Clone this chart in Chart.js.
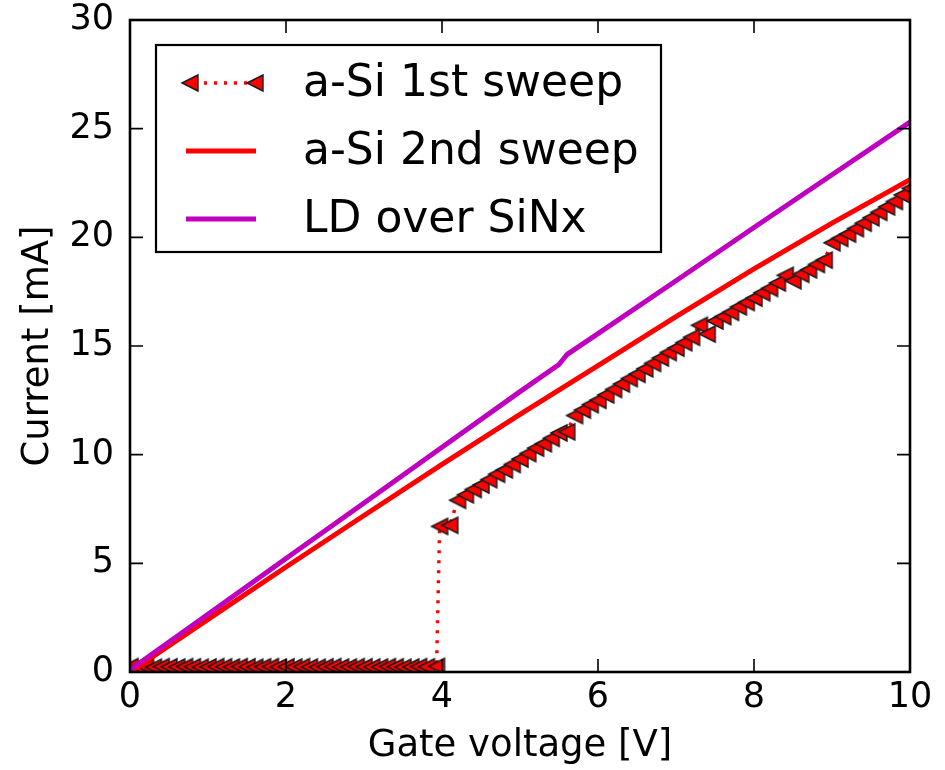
<!DOCTYPE html>
<html>
<head>
<meta charset="utf-8">
<script src="https://cdn.jsdelivr.net/npm/chart.js@4/dist/chart.umd.min.js"></script>
<style>
  html, body { margin: 0; padding: 0; background: #fff; }
  #wrap { width: 945px; height: 770px; }
</style>
</head>
<body>
<div id="wrap"><canvas id="c" width="945" height="770"></canvas></div>
<script>
// ---------- data ----------
const seriesLabels = ['a-Si 1st sweep', 'a-Si 2nd sweep', 'LD over SiNx'];

const sweep1V = [0.0,0.1,0.2,0.3,0.4,0.5,0.6,0.7,0.8,0.9,1.0,1.1,1.2,1.3,1.4,1.5,1.6,1.7,1.8,1.9,
  2.0,2.1,2.2,2.3,2.4,2.5,2.6,2.7,2.8,2.9,3.0,3.1,3.2,3.3,3.4,3.5,3.6,3.7,3.8,3.93,
  3.97,4.1,
  4.2,4.3,4.4,4.5,4.6,4.7,4.8,4.9,5.0,5.1,5.2,5.3,5.4,5.5,5.6,5.7,5.8,5.9,6.0,
  6.1,6.2,6.3,6.4,6.5,6.6,6.7,6.8,6.9,7.0,7.1,7.2,7.3,7.4,7.5,7.6,7.7,7.8,7.9,8.0,
  8.1,8.2,8.3,8.4,8.5,8.6,8.7,8.8,8.9,9.0,9.1,9.2,9.3,9.4,9.5,9.6,9.7,9.8,9.9,10.0];
const sweep1I = [0.25,0.23,0.24,0.22,0.25,0.24,0.23,0.25,0.24,0.22,0.23,0.25,0.24,0.23,0.25,0.24,0.22,0.24,0.25,0.23,
  0.24,0.23,0.25,0.23,0.22,0.24,0.25,0.23,0.23,0.25,0.24,0.23,0.23,0.25,0.24,0.22,0.23,0.25,0.24,0.26,
  6.7,6.75,
  7.9,8.15,8.4,8.6,8.85,9.1,9.3,9.55,9.8,10.05,10.3,10.5,10.75,11.0,11.05,11.8,12.05,12.3,12.5,
  12.75,13.0,13.25,13.5,13.7,13.95,14.2,14.45,14.7,14.9,15.15,15.4,15.95,15.55,16.15,16.35,16.55,16.8,17.0,17.2,
  17.45,17.65,17.9,18.25,18.0,18.3,18.5,18.75,18.95,19.75,19.95,20.15,20.4,20.65,20.9,21.15,21.4,21.65,21.95,22.25];

const sweep2V = [0,1,2,3,4,5,6,7,8,9,10];
const sweep2I = [0.0,2.42,4.83,7.2,9.55,11.85,14.1,16.35,18.55,20.65,22.65];

const ldV = [0,1,2,3,4,5,5.5,5.6,6,7,8,9,10];
const ldI = [0.1,2.66,5.22,7.78,10.34,12.9,14.15,14.6,15.57,18.0,20.45,22.88,25.3];

const xTicks = [0,2,4,6,8,10];
const yTicks = [0,5,10,15,20,25,30];

const xTitle = 'Gate voltage [V]';
const yTitle = 'Current [mA]';

// ---------- helpers ----------
const toPts = (xs, ys) => xs.map((v, i) => ({x: v, y: ys[i]}));
const FONT = '"DejaVu Sans", "Liberation Sans", sans-serif';

// matplotlib-like '<' marker (tip left, vertical base), used as a point style image
function makeLeftTriangle(size, fill, stroke, lw) {
  const pad = 2;
  const c = document.createElement('canvas');
  c.width = size + pad * 2; c.height = size + pad * 2;
  const g = c.getContext('2d');
  g.beginPath();
  g.moveTo(pad, pad + size / 2);
  g.lineTo(pad + size, pad);
  g.lineTo(pad + size, pad + size);
  g.closePath();
  g.fillStyle = fill; g.fill();
  g.lineWidth = lw; g.strokeStyle = stroke; g.lineJoin = 'miter'; g.stroke();
  return c;
}
const triMarker = makeLeftTriangle(16, '#ff0000', '#1a1a1a', 1.4);

// frame + inward ticks on all four sides (matplotlib style)
const framePlugin = {
  id: 'frame',
  afterDatasetsDraw(chart) {
    const {ctx, chartArea: a, scales: {x, y}} = chart;
    ctx.save();
    ctx.strokeStyle = '#000';
    ctx.lineWidth = 1.6;
    const L = 13;
    x.ticks.forEach(t => {
      const p = x.getPixelForValue(t.value);
      ctx.beginPath();
      ctx.moveTo(p, a.bottom); ctx.lineTo(p, a.bottom - L);
      ctx.moveTo(p, a.top); ctx.lineTo(p, a.top + L);
      ctx.stroke();
    });
    y.ticks.forEach(t => {
      const p = y.getPixelForValue(t.value);
      ctx.beginPath();
      ctx.moveTo(a.left, p); ctx.lineTo(a.left + L, p);
      ctx.moveTo(a.right, p); ctx.lineTo(a.right - L, p);
      ctx.stroke();
    });
    ctx.lineWidth = 2.6;
    ctx.strokeRect(a.left, a.top, a.right - a.left, a.bottom - a.top);
    ctx.restore();
  }
};

// legend box in the upper-left of the plot area
const legendPlugin = {
  id: 'boxLegend',
  afterDraw(chart) {
    const {ctx, chartArea: a} = chart;
    const bx = a.left + 26, by = a.top + 25, bw = 505, bh = 207;
    ctx.save();
    ctx.fillStyle = '#fff';
    ctx.fillRect(bx, by, bw, bh);
    ctx.strokeStyle = '#000';
    ctx.lineWidth = 2.2;
    ctx.strokeRect(bx, by, bw, bh);
    const rows = [38, 106, 174];
    const hx0 = bx + 30, hx1 = bx + 100;
    chart.data.datasets.forEach((ds, i) => {
      const yy = by + rows[i];
      ctx.save();
      ctx.strokeStyle = ds.borderColor;
      ctx.lineWidth = ds.borderWidth;
      ctx.setLineDash(ds.borderDash || []);
      ctx.beginPath();
      ctx.moveTo(hx0 + (ds.pointRadius > 0 ? 8 : 0), yy); ctx.lineTo(hx1, yy);
      ctx.stroke();
      ctx.restore();
      if (ds.pointRadius > 0 && ds.pointStyle instanceof HTMLCanvasElement) {
        const m = ds.pointStyle;
        ctx.drawImage(m, hx0 + 4 - m.width / 2, yy - m.height / 2);
        ctx.drawImage(m, hx1 - 1 - m.width / 2, yy - m.height / 2);
      }
      ctx.fillStyle = '#000';
      ctx.font = '44px ' + FONT;
      ctx.textAlign = 'left';
      ctx.textBaseline = 'middle';
      ctx.fillText(ds.label, bx + 147, yy + 2);
    });
    ctx.restore();
  }
};

new Chart(document.getElementById('c'), {
  type: 'scatter',
  data: {
    datasets: [
      {
        label: seriesLabels[0],
        data: toPts(sweep1V, sweep1I),
        showLine: true,
        borderColor: '#ff0000',
        borderWidth: 3.5,
        borderDash: [3, 7],
        pointStyle: triMarker,
        pointRadius: 8,
        pointHoverRadius: 8,
        tension: 0,
        clip: 0,
        order: 3
      },
      {
        label: seriesLabels[1],
        data: toPts(sweep2V, sweep2I),
        showLine: true,
        borderColor: '#ff0000',
        borderWidth: 5,
        borderJoinStyle: 'round',
        pointRadius: 0,
        pointHoverRadius: 0,
        tension: 0,
        clip: 0,
        order: 2
      },
      {
        label: seriesLabels[2],
        data: toPts(ldV, ldI),
        showLine: true,
        borderColor: '#bf00bf',
        borderWidth: 5,
        borderJoinStyle: 'round',
        pointRadius: 0,
        pointHoverRadius: 0,
        tension: 0,
        clip: 0,
        order: 1
      }
    ]
  },
  options: {
    responsive: false,
    animation: false,
    events: [],
    layout: { autoPadding: false, padding: { left: 0, right: 35, top: 20, bottom: 0 } },
    plugins: { legend: { display: false }, tooltip: { enabled: false } },
    scales: {
      x: {
        type: 'linear',
        min: 0, max: 10,
        afterBuildTicks: s => { s.ticks = xTicks.map(v => ({value: v})); },
        afterFit: s => { s.height = 98; s.paddingLeft = 0; s.paddingRight = 0; },
        grid: { display: false, drawTicks: false },
        border: { display: false },
        ticks: { color: '#000', padding: 8, font: { family: FONT, size: 35, lineHeight: 1.0 }, maxRotation: 0 },
        title: { display: true, text: xTitle, color: '#000', padding: { top: 0, bottom: 1 }, font: { family: FONT, size: 37, lineHeight: 1.2 } }
      },
      y: {
        type: 'linear',
        min: 0, max: 30,
        afterBuildTicks: s => { s.ticks = yTicks.map(v => ({value: v})); },
        afterFit: s => { s.width = 130; s.paddingTop = 0; s.paddingBottom = 0; },
        grid: { display: false, drawTicks: false },
        border: { display: false },
        ticks: { color: '#000', padding: 16, font: { family: FONT, size: 35, lineHeight: 1.0 } },
        title: { display: true, text: yTitle, color: '#000', padding: { top: 16, bottom: 0 }, font: { family: FONT, size: 37, lineHeight: 1.2 } }
      }
    }
  },
  plugins: [framePlugin, legendPlugin]
});
</script>
</body>
</html>
